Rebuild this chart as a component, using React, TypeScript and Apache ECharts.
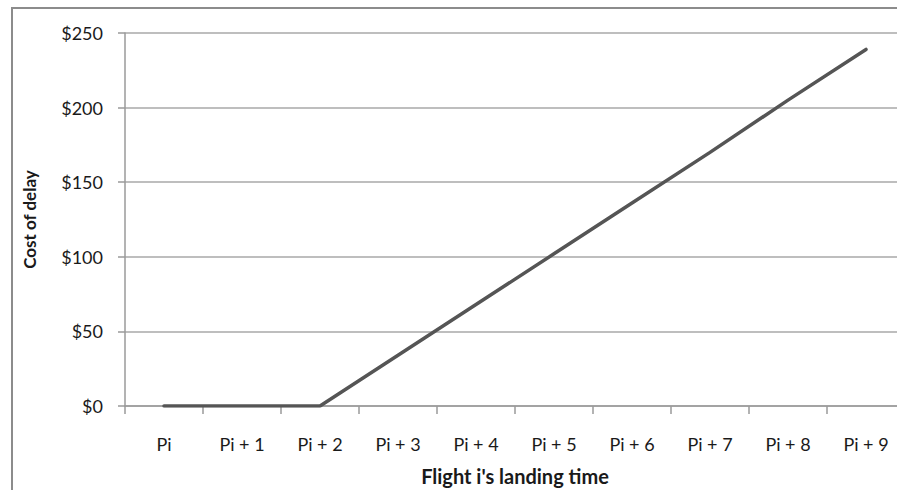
import React, { useEffect, useRef } from "react";
import * as echarts from "echarts";

const categories = ["Pi", "Pi + 1", "Pi + 2", "Pi + 3", "Pi + 4", "Pi + 5", "Pi + 6", "Pi + 7", "Pi + 8", "Pi + 9"];
const costOfDelay = [0, 0, 0, 34, 68, 102, 136, 170, 205, 239];
const yMin = 0;
const yMax = 250;
const yInterval = 50;

const FONT = "Lato, 'Liberation Sans Narrow', Roboto, sans-serif";

export default function App() {
  const ref = useRef<HTMLDivElement>(null);
  useEffect(() => {
    if (!ref.current) return;
    const chart = echarts.init(ref.current, undefined, { renderer: "svg" });
    chart.setOption({
      animation: false,
      backgroundColor: "#fff",
      graphic: [
        {
          type: "rect",
          shape: { x: 12, y: 8, width: 1000, height: 600 },
          style: { fill: "none", stroke: "#8c8c8c", lineWidth: 2 },
          silent: true,
        },
      ],
      grid: { left: 125, top: 33, width: 780, height: 373, containLabel: false },
      xAxis: {
        type: "category",
        data: categories,
        boundaryGap: true,
        name: "Flight i's landing time",
        nameLocation: "middle",
        nameGap: 60,
        nameTextStyle: { fontFamily: FONT, fontWeight: "bold", fontSize: 20, color: "#1a1a1a" },
        axisLine: { lineStyle: { color: "#9a9a9a", width: 1.5 } },
        axisTick: { show: true, length: 8, inside: false, lineStyle: { color: "#9a9a9a", width: 1.5 } },
        axisLabel: { fontFamily: FONT, fontSize: 18, color: "#1a1a1a", margin: 29, interval: 0 },
        splitLine: { show: false },
      },
      yAxis: {
        type: "value",
        min: yMin,
        max: yMax,
        interval: yInterval,
        name: "Cost of delay",
        nameLocation: "middle",
        nameGap: 87,
        nameRotate: 90,
        nameTextStyle: { fontFamily: FONT, fontWeight: "bold", fontSize: 17, color: "#1a1a1a" },
        axisLine: { show: true, lineStyle: { color: "#9a9a9a", width: 1.5 } },
        axisTick: { show: true, length: 7, lineStyle: { color: "#9a9a9a", width: 1.5 } },
        axisLabel: {
          fontFamily: FONT,
          fontSize: 18,
          color: "#1a1a1a",
          margin: 22,
          formatter: (v: number) => "$" + v,
        },
        splitLine: { show: true, lineStyle: { color: "#a8a8a8", width: 1.5 } },
      },
      series: [
        {
          type: "line",
          data: costOfDelay,
          showSymbol: false,
          symbol: "none",
          lineStyle: { color: "#555555", width: 3.5, cap: "round" },
          itemStyle: { color: "#555555" },
        },
      ],
    });
    return () => chart.dispose();
  }, []);
  return (
    <div style={{ position: "fixed", left: 0, top: 0, width: 897, height: 490, overflow: "hidden", background: "#fff" }}>
      <div ref={ref} style={{ width: 960, height: 520 }} />
    </div>
  );
}
